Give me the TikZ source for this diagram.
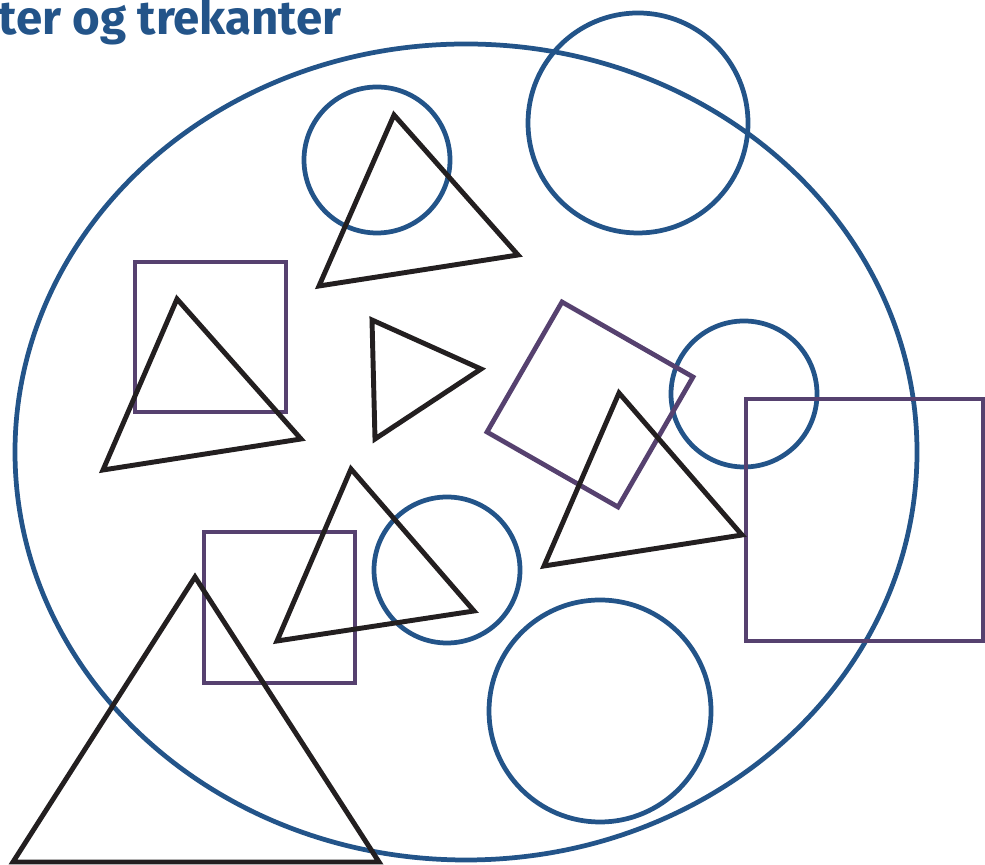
\documentclass[tikz,border=0pt]{standalone}
\usepackage{fontspec}
\setsansfont{Fira Sans}
\definecolor{setblue}{HTML}{235489}
\definecolor{sqpurple}{HTML}{56416F}
\definecolor{triblack}{HTML}{231F20}

\begin{document}
\begin{tikzpicture}[
    x=0.01cm, y=-0.01cm,
    circ/.style={draw=setblue, line width=1.35pt},
    sq/.style={draw=sqpurple, line width=1.35pt},
    tri/.style={draw=triblack, line width=1.4pt},
    title/.style={text=setblue, font=\sffamily\bfseries\fontsize{13.5}{16}\selectfont, inner sep=0pt, anchor=base west}
]
\useasboundingbox (0,0) rectangle (985,865);
\node[title] (heading) at (-2,35) {ter og trekanter};

% the large set
\draw[circ] (466,452) ellipse [x radius=451, y radius=-408];

% circles
\draw[circ] (638,123) circle [radius=110];
\draw[circ] (377,160) circle [radius=73];
\draw[circ] (744,394) circle [radius=73];
\draw[circ] (447,570) circle [radius=73];
\draw[circ] (600,711) circle [radius=111];

% squares
\draw[sq] (135,262) rectangle (286,412);
\draw[sq] (204,532) rectangle (355,683);
\draw[sq] (746,399) rectangle (983,641);
\draw[sq] (562,302) -- (693,377) -- (618,507) -- (487,432) -- cycle;

% triangles
\draw[tri] (394,115) -- (518,255) -- (319,286) -- cycle;
\draw[tri] (177,299) -- (301,439) -- (103,470) -- cycle;
\draw[tri] (372,320) -- (481,369) -- (375,439) -- cycle;
\draw[tri] (619,393) -- (742,535) -- (544,566) -- cycle;
\draw[tri] (351,469) -- (474,611) -- (277,641) -- cycle;
\draw[tri] (195,577) -- (379,862) -- (13,862) -- cycle;
\end{tikzpicture}
\end{document}
